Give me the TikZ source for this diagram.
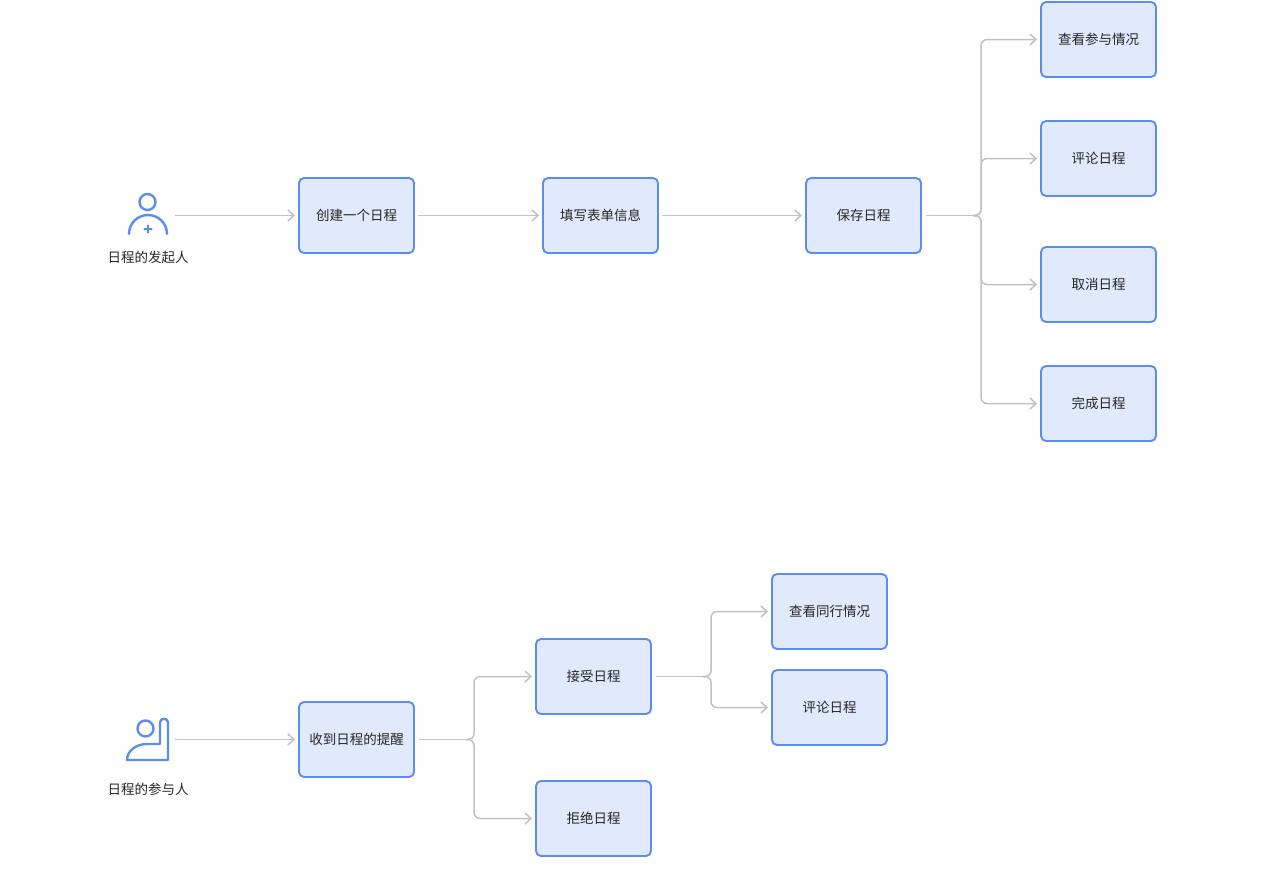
\documentclass[tikz,border=0pt]{standalone}
\usepackage{fontspec}
\setmainfont{Noto Sans CJK SC}
\usetikzlibrary{arrows.meta}
\definecolor{boxfill}{HTML}{E1E9FC}
\definecolor{boxline}{HTML}{5B8DEF}
\definecolor{connc}{HTML}{C2C2C2}
\definecolor{txt}{HTML}{262626}
\begin{document}
\begin{tikzpicture}[x=1pt,y=-1pt,
  stepbox/.style={draw=boxline, fill=boxfill, line width=1.9pt, rounded corners=5pt,
    minimum width=115pt, minimum height=75pt, inner sep=0pt, text=txt,
    font=\fontsize{13.5pt}{16pt}\selectfont},
  lbl/.style={text=txt, inner sep=0pt, font=\fontsize{13.5pt}{16pt}\selectfont},
  arr/.style={draw=connc, line width=1.5pt, line join=round,
    -{Straight Barb[length=6pt,width=11pt,line width=1.5pt]},
    shorten >=3pt},
  branch/.style={arr, rounded corners=6pt},
  trunk/.style={draw=connc, line width=1.5pt, shorten <=4pt},
  icon/.style={draw=boxline, line width=2.4pt, line cap=round, line join=round}
]
\useasboundingbox (0,0) rectangle (1265,873);
\fill[white] (0,0) rectangle (1265,873);

% ---------- icon 1: initiator ----------
\draw[icon] (147.5,202) circle (8pt);
\draw[icon] (129,234) .. controls (129,223.5) and (137.5,215) .. (148,215)
  .. controls (158.5,215) and (167,223.5) .. (167,234);
\draw[icon] (148,225.5) -- (148,232.5) (144.5,229) -- (151.5,229);
\node[lbl] (l1) at (148,257) {日程的发起人};
\coordinate (u1) at (175,215.5);

% ---------- top row ----------
\node[stepbox] (b1) at (356.5,215.5) {创建一个日程};
\node[stepbox] (b2) at (600.5,215.5) {填写表单信息};
\node[stepbox] (b3) at (863.5,215.5) {保存日程};
\node[stepbox] (t1) at (1098.5,39.5) {查看参与情况};
\node[stepbox] (t2) at (1098.5,158.5) {评论日程};
\node[stepbox] (t3) at (1098.5,284.5) {取消日程};
\node[stepbox] (t4) at (1098.5,403.5) {完成日程};

\draw[arr] (u1) -- (b1.west);
\draw[arr, shorten <=3pt] (b1.east) -- (b2.west);
\draw[arr, shorten <=3pt] (b2.east) -- (b3.west);
\coordinate (j1) at (981,215.5);
\coordinate (j1a) at (973,215.5);
\draw[trunk] (b3.east) -- (j1a);
\draw[branch] (j1a) -- (j1) |- (t1.west);
\draw[branch] (j1a) -- (j1) |- (t2.west);
\draw[branch] (j1a) -- (j1) |- (t3.west);
\draw[branch] (j1a) -- (j1) |- (t4.west);

% ---------- icon 2: participant ----------
\draw[icon] (145.5,728.5) circle (8pt);
\draw[icon] (160,744) -- (160,722.5) .. controls (160,717.5) and (168,717.5) .. (168,722.5)
  -- (168,760) -- (127,760) .. controls (127,751) and (136,744) .. (147,744) -- cycle;
\node[lbl] (l2) at (148,789) {日程的参与人};
\coordinate (u2) at (175,739.5);

% ---------- bottom row ----------
\node[stepbox] (c1) at (356.5,739.5) {收到日程的提醒};
\node[stepbox] (c2) at (593.5,676.5) {接受日程};
\node[stepbox] (c3) at (593.5,818.5) {拒绝日程};
\node[stepbox] (c4) at (829.5,611.5) {查看同行情况};
\node[stepbox] (c5) at (829.5,707.5) {评论日程};

\draw[arr] (u2) -- (c1.west);
\coordinate (j2) at (474,739.5);
\coordinate (j2a) at (466,739.5);
\draw[trunk] (c1.east) -- (j2a);
\draw[branch] (j2a) -- (j2) |- (c2.west);
\draw[branch] (j2a) -- (j2) |- (c3.west);
\coordinate (j3) at (711,676.5);
\coordinate (j3a) at (703,676.5);
\draw[trunk] (c2.east) -- (j3a);
\draw[branch] (j3a) -- (j3) |- (c4.west);
\draw[branch] (j3a) -- (j3) |- (c5.west);
\end{tikzpicture}
\end{document}
